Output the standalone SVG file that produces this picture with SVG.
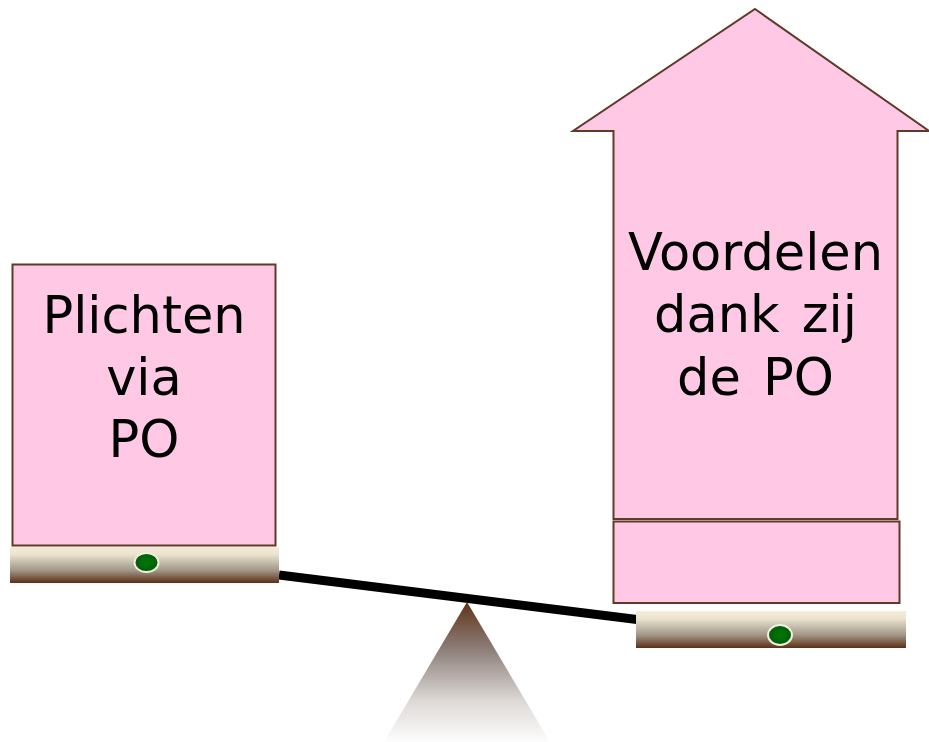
<svg xmlns="http://www.w3.org/2000/svg" width="929" height="742" viewBox="0 0 929 742">
<style>
.box{fill:#ffc9e6;stroke:#5f3a28;stroke-width:2}
.t{font-family:"DejaVu Sans",Verdana,sans-serif;font-size:51px;word-spacing:6px;fill:#000;text-anchor:middle}
.pan{fill:url(#panG)}
.dot{fill:url(#dotG);stroke:#f3ecd8;stroke-width:2}
</style>
<defs>
<linearGradient id="panG" x1="0" y1="0" x2="0" y2="1">
<stop offset="0" stop-color="#f3ecd8"/><stop offset="0.2" stop-color="#ebe4cf"/><stop offset="0.65" stop-color="#a09787"/><stop offset="1" stop-color="#5c3016"/>
</linearGradient>
<radialGradient id="dotG"><stop offset="0" stop-color="#007a00"/><stop offset="1" stop-color="#005a10"/></radialGradient>
<linearGradient id="fulG" x1="0" y1="0" x2="0" y2="1">
<stop offset="0" stop-color="#5f3318"/><stop offset="0.35" stop-color="#8f817c"/><stop offset="0.7" stop-color="#dcd8d5"/><stop offset="1" stop-color="#fdfdfd"/>
</linearGradient>
</defs>
<g id="connectors">
<line x1="279" y1="575" x2="637" y2="619.500" stroke="#000" stroke-width="9"/>
</g>
<g id="fulcrum"><polygon points="467,602 550,742 384,742" fill="url(#fulG)"/></g>
<g id="pan-left"><rect class="pan" x="10" y="547" width="269" height="36"/><ellipse class="dot" cx="146.500" cy="562.500" rx="12" ry="9.500"/></g>
<g id="pan-right"><rect class="pan" x="636" y="611" width="270" height="37"/><ellipse class="dot" cx="780" cy="635" rx="12" ry="10"/></g>
<g id="plichten"><rect class="box" x="12.500" y="264.500" width="263" height="281"/>
<text class="t" x="144" y="333">Plichten</text><text class="t" x="144" y="395">via</text><text class="t" x="144" y="457">PO</text></g>
<g id="voordelen"><polygon class="box" points="755,9 929,131 897.500,131 897.500,519 613.500,519 613.500,131 573,131"/>
<text class="t" x="755.500" y="270">Voordelen</text><text class="t" x="755.500" y="332">dank zij</text><text class="t" x="755.500" y="395">de PO</text></g>
<g id="voordelen-base"><rect class="box" x="613.500" y="521.500" width="286" height="81.500"/></g>
</svg>
